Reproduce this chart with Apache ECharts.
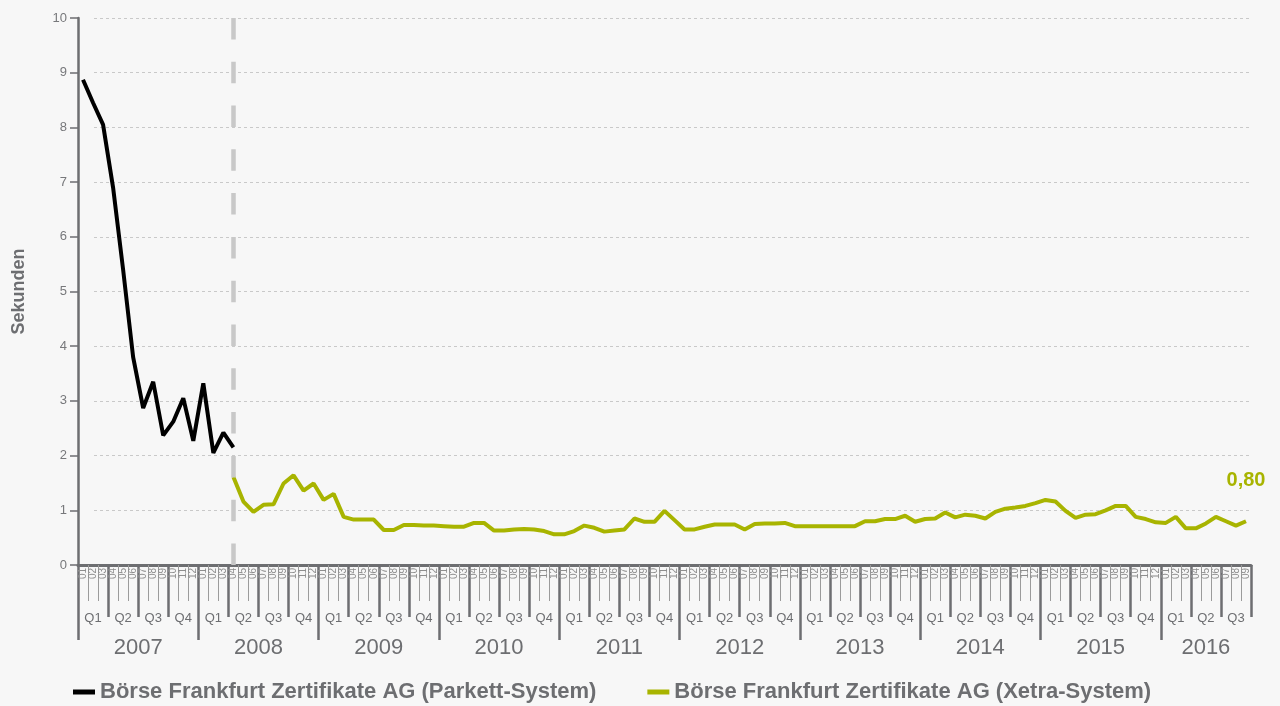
<!DOCTYPE html>
<html>
<head>
<meta charset="utf-8">
<title>Börse Frankfurt Zertifikate AG</title>
<script src="https://cdn.jsdelivr.net/npm/echarts@6/dist/echarts.min.js"></script>
<style>
    html, body { margin: 0; padding: 0; background: #f7f7f7; }
    #main { width: 1280px; height: 706px; }
</style>
</head>
<body>
<div id="main"></div>
<script>
// Zeitachse: Jan 2007 bis Sep 2016
var years = ['2007', '2008', '2009', '2010', '2011', '2012', '2013', '2014', '2015', '2016'];
var monthsPerYear = [12, 12, 12, 12, 12, 12, 12, 12, 12, 9];
var monthNames = ['01', '02', '03', '04', '05', '06', '07', '08', '09', '10', '11', '12'];
var quarterNames = ['Q1', 'Q2', 'Q3', 'Q4'];

// Parkett-System, Jan 2007 - Apr 2008 (Sekunden)
var parkett = [8.87, 8.45, 8.05, 6.90, 5.40, 3.80, 2.87, 3.35, 2.37, 2.62, 3.05, 2.27,
    3.32, 2.05, 2.42, 2.15];
// Xetra-System, ab Apr 2008
var xetraStart = 15;
var xetra = [1.61, 1.16, 0.97, 1.10, 1.11, 1.49, 1.64, 1.36, 1.49,
    1.19, 1.30, 0.88, 0.83, 0.83, 0.83, 0.64, 0.64, 0.73, 0.73, 0.72, 0.72,
    0.71, 0.70, 0.70, 0.77, 0.77, 0.63, 0.63, 0.65, 0.66, 0.65, 0.62, 0.56,
    0.56, 0.62, 0.72, 0.68, 0.61, 0.63, 0.65, 0.85, 0.79, 0.79, 0.99, 0.82,
    0.65, 0.65, 0.70, 0.74, 0.74, 0.74, 0.65, 0.75, 0.76, 0.76, 0.77, 0.71,
    0.71, 0.71, 0.71, 0.71, 0.71, 0.71, 0.80, 0.80, 0.84, 0.84, 0.90, 0.79,
    0.84, 0.85, 0.96, 0.87, 0.92, 0.90, 0.85, 0.97, 1.03, 1.05, 1.08, 1.13,
    1.19, 1.16, 0.99, 0.86, 0.92, 0.93, 1.00, 1.08, 1.08, 0.88, 0.84, 0.78,
    0.77, 0.88, 0.67, 0.67, 0.76, 0.88, 0.80, 0.72, 0.80];

var seriesNames = ['Börse Frankfurt Zertifikate AG (Parkett-System)', 'Börse Frankfurt Zertifikate AG (Xetra-System)'];

// Achsenbeschriftungen aufbauen
var monthLabels = [];
var quarterLabels = [];
var yearStarts = [];
var yearCenters = [];
var pos = 0;
for (var y = 0; y < years.length; y++) {
    yearStarts.push(pos);
    yearCenters.push(pos + monthsPerYear[y] / 2);
    for (var m = 0; m < monthsPerYear[y]; m++) {
        monthLabels.push(monthNames[m]);
        if (m % 3 == 0) quarterLabels.push(quarterNames[m / 3]);
    }
    pos += monthsPerYear[y];
}
var totalMonths = pos;

var parkettData = [];
var xetraData = [];
for (var i = 0; i < totalMonths; i++) {
    parkettData.push(i < parkett.length ? parkett[i] : null);
    xetraData.push(i >= xetraStart ? xetra[i - xetraStart] : null);
}

var grey = '#6d6e71';
var font = "'Liberation Sans', Arial, sans-serif";

var chart = echarts.init(document.getElementById('main'));
var option = {
    backgroundColor: '#f7f7f7',
    animation: false,
    textStyle: {fontFamily: font},
    grid: [
        {left: 78, right: 29, top: 18, bottom: 141},
        // nur fuer die gestrichelten Hilfslinien
        {left: 94, right: 29, top: 18, bottom: 141}
    ],
    legend: {
        left: 68,
        top: 676,
        icon: 'rect',
        itemWidth: 22,
        itemHeight: 5,
        itemGap: 51,
        textStyle: {fontSize: 22, fontWeight: 'bold', color: grey, fontFamily: font},
        data: seriesNames
    },
    xAxis: [{
        // Monate
        type: 'category',
        gridIndex: 0,
        data: monthLabels,
        position: 'bottom',
        axisLine: {lineStyle: {color: grey, width: 3}},
        axisTick: {show: true, interval: 0, length: 36, lineStyle: {color: '#9b9b9b', width: 1}},
        axisLabel: {interval: 0, rotate: 90, fontSize: 10, color: '#8e8e8e', margin: 3}
    }, {
        // Quartale
        type: 'category',
        gridIndex: 0,
        data: quarterLabels,
        position: 'bottom',
        axisLine: {show: false},
        axisTick: {show: true, interval: 0, length: 52, lineStyle: {color: grey, width: 2.5}},
        axisLabel: {interval: 0, fontSize: 13, color: grey, margin: 47}
    }, {
        // Jahre
        type: 'value',
        gridIndex: 0,
        position: 'bottom',
        min: 0,
        max: totalMonths,
        splitLine: {show: false},
        axisLine: {show: false},
        axisTick: {show: true, customValues: yearStarts, length: 75, lineStyle: {color: grey, width: 2.5}},
        axisLabel: {
            customValues: yearCenters,
            fontSize: 22,
            color: grey,
            margin: 72,
            formatter: function (value) {
                for (var k = 0; k < yearCenters.length; k++) {
                    if (yearCenters[k] == value) return years[k];
                }
                return '';
            }
        }
    }, {
        type: 'value',
        gridIndex: 1,
        min: 0,
        max: 1,
        show: false
    }],
    yAxis: [{
        type: 'value',
        gridIndex: 0,
        min: 0,
        max: 10,
        interval: 1,
        name: 'Sekunden',
        nameLocation: 'middle',
        nameGap: 50,
        nameTextStyle: {fontSize: 18, fontWeight: 'bold', color: grey},
        axisLine: {show: true, lineStyle: {color: grey, width: 2.5}},
        axisTick: {show: true, length: 8, lineStyle: {color: grey, width: 1.5}},
        axisLabel: {fontSize: 13, color: '#77787b', margin: 11},
        splitLine: {show: false}
    }, {
        type: 'value',
        gridIndex: 1,
        min: 0,
        max: 10,
        interval: 1,
        axisLine: {show: false},
        axisTick: {show: false},
        axisLabel: {show: false},
        splitLine: {lineStyle: {color: '#c9c9c9', type: [3, 3], width: 1}}
    }],
    series: [{
        name: seriesNames[0],
        type: 'line',
        xAxisIndex: 0,
        yAxisIndex: 0,
        data: parkettData,
        showSymbol: false,
        color: '#000000',
        lineStyle: {width: 4, color: '#000000'},
        z: 3,
        // Umstellung Parkett -> Xetra
        markLine: {
            silent: true,
            symbol: 'none',
            label: {show: false},
            lineStyle: {color: '#c8c8c8', width: 4.5, type: [21.5, 22.3]},
            data: [{xAxis: xetraStart}]
        }
    }, {
        name: seriesNames[1],
        type: 'line',
        xAxisIndex: 0,
        yAxisIndex: 0,
        data: xetraData,
        showSymbol: false,
        color: '#a8b400',
        lineStyle: {width: 4, color: '#a8b400'},
        z: 3,
        endLabel: {
            show: true,
            align: 'center',
            verticalAlign: 'bottom',
            distance: 0,
            offset: [0, -31],
            fontSize: 20,
            fontWeight: 'bold',
            color: '#a8b400',
            formatter: function (p) {
                return p.value.toFixed(2).replace('.', ',');
            }
        }
    }]
};
chart.setOption(option);
</script>
</body>
</html>
